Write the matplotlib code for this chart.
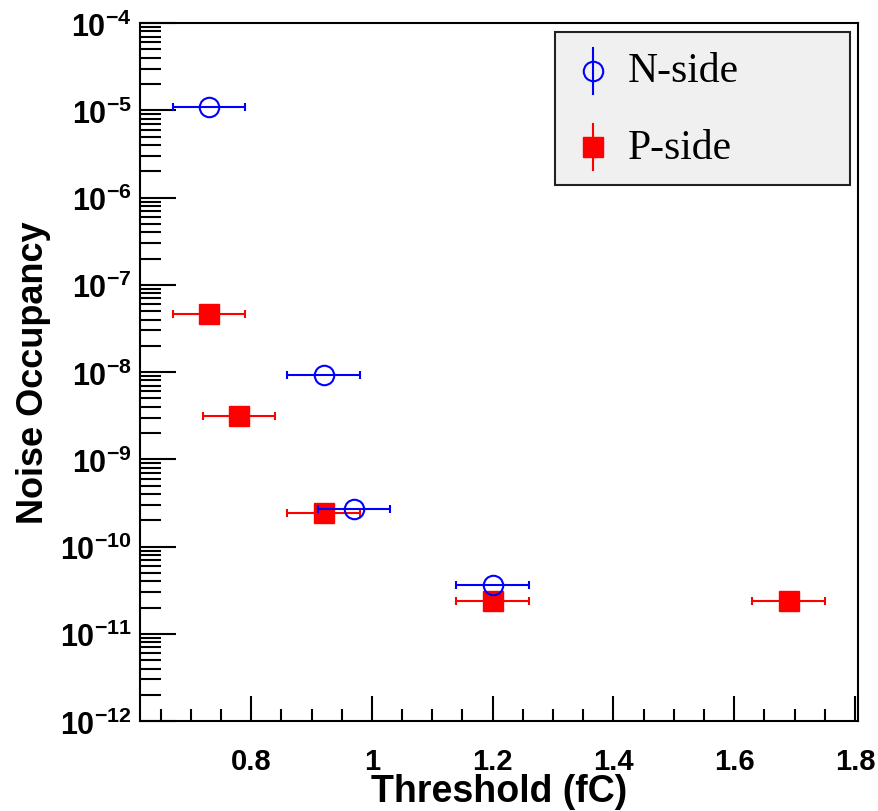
import numpy as np
import matplotlib.pyplot as plt
from matplotlib.patches import Rectangle
from matplotlib.ticker import LogLocator, NullFormatter, MultipleLocator, FuncFormatter

# N-side points
n_thr = [0.73, 0.92, 0.97, 1.20]
n_occ = [1.1e-5, 9.2e-9, 2.7e-10, 3.6e-11]
# P-side points
p_thr = [0.73, 0.78, 0.92, 1.20, 1.69]
p_occ = [4.6e-8, 3.1e-9, 2.45e-10, 2.4e-11, 2.4e-11]
thr_err = 0.06

plt.rcParams['mathtext.fontset'] = 'custom'
plt.rcParams['mathtext.rm'] = 'Liberation Sans:bold'
plt.rcParams['mathtext.bf'] = 'Liberation Sans:bold'

fig = plt.figure(figsize=(8.79, 8.12), dpi=100)
ax = fig.add_axes([0.1593, 0.1108, 0.8165, 0.8596])

ax.errorbar(p_thr, p_occ, xerr=thr_err, fmt='s', color='red', ms=14, mfc='red', mec='red',
            elinewidth=1.5, capsize=3, capthick=1.5, zorder=3)
ax.errorbar(n_thr, n_occ, xerr=thr_err, fmt='o', color='blue', ms=14, mfc='none', mec='blue',
            mew=1.5, elinewidth=1.5, capsize=3, capthick=1.5, zorder=4)

ax.set_yscale('log')
ax.set_ylim(1e-12, 1e-4)
ax.set_xlim(0.616, 1.8045)

ax.xaxis.set_major_locator(MultipleLocator(0.2))
ax.xaxis.set_minor_locator(MultipleLocator(0.05))
ax.xaxis.set_major_formatter(FuncFormatter(lambda v, p: '%g' % round(v, 2)))
ax.yaxis.set_major_locator(LogLocator(base=10, numticks=20))
ax.yaxis.set_minor_locator(LogLocator(base=10, subs=np.arange(2, 10), numticks=20))
ax.yaxis.set_major_formatter(FuncFormatter(lambda v, p: r'$\mathbf{10^{%d}}$' % round(np.log10(v))))
ax.yaxis.set_minor_formatter(NullFormatter())

ax.tick_params(which='both', direction='in', top=False, right=False, width=1.5)
ax.tick_params(axis='y', which='major', length=26, labelsize=22, pad=6)
ax.tick_params(axis='y', which='minor', length=15)
ax.tick_params(axis='x', which='major', length=18, labelsize=21, pad=19)
ax.tick_params(axis='x', which='minor', length=9)
for lab in ax.get_xticklabels():
    lab.set_fontfamily('Liberation Sans')
    lab.set_fontweight('bold')
for sp in ax.spines.values():
    sp.set_linewidth(1.5)

ax.set_xlabel('Threshold (fC)', fontsize=27, fontweight='bold', family='Liberation Sans', labelpad=-2)
ax.set_ylabel('Noise Occupancy', fontsize=26, fontweight='bold', family='Liberation Sans', labelpad=6)

# legend box drawn by hand, ROOT style
ax.add_patch(Rectangle((0.578, 0.768), 0.411, 0.2195, transform=ax.transAxes,
                       facecolor='#f0f0f0', edgecolor='#222222', lw=1.5, zorder=5))
lx = 0.631
ax.plot([lx, lx], [0.898, 0.964], transform=ax.transAxes, color='blue', lw=1.5, zorder=6)
ax.plot([lx], [0.931], 'o', ms=14, mfc='none', mec='blue', mew=1.5, transform=ax.transAxes, zorder=7)
ax.plot([lx, lx], [0.789, 0.855], transform=ax.transAxes, color='red', lw=1.5, zorder=6)
ax.plot([lx], [0.822], 's', ms=14, color='red', transform=ax.transAxes, zorder=7)
ax.text(0.680, 0.931, 'N-side', transform=ax.transAxes, fontsize=30, family='Liberation Serif',
        va='center', ha='left', zorder=7)
ax.text(0.680, 0.822, 'P-side', transform=ax.transAxes, fontsize=30, family='Liberation Serif',
        va='center', ha='left', zorder=7)

fig.savefig('out.png', dpi=100)
